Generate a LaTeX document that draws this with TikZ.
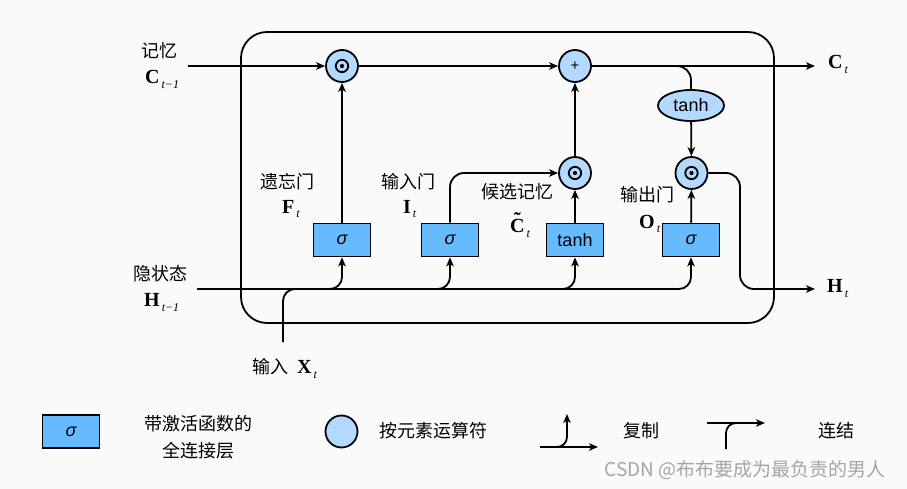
\documentclass[tikz,border=0pt]{standalone}
\usepackage{fontspec}
\setmainfont{Liberation Sans}
\newfontfamily\cjk{Noto Sans CJK SC}
\newfontfamily\tnr{Liberation Serif}
\usetikzlibrary{shapes.geometric,arrows.meta,calc}
\definecolor{bg}{RGB}{250,250,250}
\definecolor{boxblue}{RGB}{102,187,255}
\definecolor{opblue}{RGB}{179,217,255}
\definecolor{wm}{RGB}{165,165,165}
\newcommand{\lstmlab}[2]{{\tnr\fontsize{20}{20}\selectfont\textbf{#1}\raisebox{-5pt}{\fontsize{12}{12}\selectfont\,\textit{#2}}}}
\newcommand{\tildeC}{\ooalign{C\cr\hidewidth\raisebox{6pt}{\char"02DC}\hidewidth\cr}}
\begin{document}
\begin{tikzpicture}[x=1pt,y=-1pt,
  line/.style={line width=1.8pt},
  arr/.style={line, -{Stealth[length=9pt,width=7.5pt,inset=2.5pt]}},
  fc/.style={draw, line width=1.8pt, fill=boxblue, minimum width=57pt, minimum height=33pt, inner sep=0pt, font=\fontsize{18}{18}\selectfont},
  op/.style={circle, draw, line width=1.8pt, fill=opblue, minimum size=32pt, inner sep=0pt},
  odot/.style={op, path picture={\draw[black, line width=1.8pt] (path picture bounding box.center) circle (6.2pt); \fill[black] (path picture bounding box.center) circle (2.1pt);}},
  zh/.style={font=\cjk\fontsize{18}{18}\selectfont, inner sep=0pt},
  ml/.style={anchor=base west, inner sep=0pt},
  ]
\fill[bg] (0,0) rectangle (907,489);
\useasboundingbox (0,0) rectangle (907,489);

% frame
\draw[line, rounded corners=26pt] (241,32) rectangle (774,323);

% nodes
\node[odot] (f) at (342,66) {};
\node[op, font=\fontsize{15}{15}\selectfont] (plus) at (575,66) {+};
\node[odot] (cand) at (575,173) {};
\node[odot] (o) at (691.5,173) {};
\node[ellipse, draw, line width=1.8pt, fill=opblue, minimum width=66pt, minimum height=31pt, inner sep=0pt, font=\fontsize{18}{18}\selectfont] (th) at (691,105.5) {tanh};

\node[fc] (sf) at (342,240) {\itshape σ};
\node[fc] (si) at (450,240) {\itshape σ};
\node[fc] (tb) at (575,240) {tanh};
\node[fc] (so) at (691,240) {\itshape σ};

\coordinate (c0) at (188,66);
\coordinate (ct) at (815,66);
\coordinate (h0) at (197,289);
\coordinate (hb) at (740,289);
\coordinate (ht) at (815,289);
\coordinate (x0) at (283,342);

% connectors
\draw[arr] (c0) -- (f);
\draw[arr] (f) -- (plus);
\draw[arr] (plus) -- (ct);
\draw[line, rounded corners=14pt] (plus.east) -- (plus.east -| th.north) -- (th.north);
\draw[arr] (th) -- (o);
\draw[arr, rounded corners=14pt] (o.east) -| (hb) -- (ht);
\draw[arr] (sf) -- (f);
\draw[arr, rounded corners=14pt] (si.north) |- (cand.west);
\draw[arr] (tb) -- (cand);
\draw[arr] (cand) -- (plus);
\draw[arr] (so) -- (o);

\draw[arr, rounded corners=12pt] (h0) -| (so.south);
\foreach \b in {sf,si,tb}
  \draw[arr, rounded corners=12pt] ($(\b.south |- h0)+(-20,0)$) -| (\b.south);
\draw[line, rounded corners=12pt] (x0) |- ($(x0 |- h0)+(25,0)$);

% labels
\node[zh] (l1) at (159.5,50.5) {记忆};
\node[ml] (l2) at (145,83.5) {\lstmlab{C}{t−1}};
\node[zh] (l3) at (160,274) {隐状态};
\node[ml] (l4) at (144,306) {\lstmlab{H}{t−1}};
\node[zh] (l5) at (287,182) {遗忘门};
\node[ml] (l6) at (282,213) {\lstmlab{F}{t}};
\node[zh] (l7) at (408,182) {输入门};
\node[ml] (l8) at (403,213) {\lstmlab{I}{t}};
\node[zh] (l9) at (517.5,192) {候选记忆};
\node[ml] (l10) at (510,233) {\lstmlab{\tildeC}{t}};
\node[zh] (l11) at (647,195) {输出门};
\node[ml] (l12) at (639,228) {\lstmlab{O}{t}};
\node[ml] (l13) at (828,69) {\lstmlab{C}{t}};
\node[ml] (l14) at (827,292.5) {\lstmlab{H}{t}};
\node[zh, anchor=base east] (l15) at (289,373) {输入};
\node[ml] (l16) at (297,373) {\lstmlab{X}{t}};

% legend
\node[fc] (lb) at (71,431.5) {\itshape σ};
\node[zh] (lt1) at (198,424) {带激活函数的};
\node[zh] (lt2) at (198,451) {全连接层};
\node[op] (lc) at (341.5,431.5) {};
\node[zh] (lt3) at (433,431) {按元素运算符};
\coordinate (cp1) at (540,447);
\coordinate (cp2) at (598,447);
\coordinate (cp3) at (555,447);
\coordinate (cp4) at (567,447);
\coordinate (cp5) at (567,414);
\draw[arr] (cp1) -- (cp2);
\draw[arr, rounded corners=10pt] (cp3) -- (cp4) -- (cp5);
\node[zh] (lt4) at (641,431) {复制};
\coordinate (cc1) at (707,423);
\coordinate (cc2) at (765,423);
\coordinate (cc3) at (726,449);
\coordinate (cc4) at (726,423);
\coordinate (cc5) at (742,423);
\draw[arr] (cc1) -- (cc2);
\draw[line, rounded corners=10pt] (cc3) -- (cc4) -- (cc5);
\node[zh] (lt5) at (836,431) {连结};

\node[font=\cjk\fontsize{19}{19}\selectfont, text=wm, inner sep=0pt] (wmk) at (745,470) {CSDN @布布要成为最负责的男人};
\end{tikzpicture}
\end{document}
